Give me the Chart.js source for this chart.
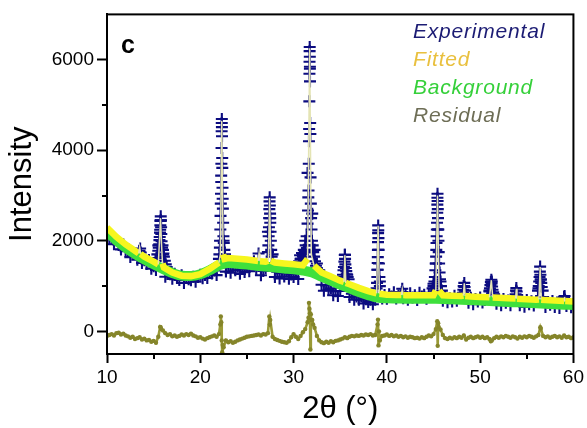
<!DOCTYPE html>
<html><head><meta charset="utf-8">
<script src="https://cdn.jsdelivr.net/npm/chart.js@4.4.0/dist/chart.umd.min.js"></script>
<style>html,body{margin:0;padding:0;background:#fff}#wrap{width:587px;height:428px}</style>
</head><body><div id="wrap"><canvas id="c" width="587" height="428"></canvas></div>
<script>
// ---- data ----
const xTicks = [10, 20, 30, 40, 50, 60];
const xMinor = [15, 25, 35, 45, 55];
const yTicks = [0, 2000, 4000, 6000];
const yMinor = [1000, 3000, 5000];
const panelLabel = 'c';
const xTitle = '2θ (°)';
const yTitle = 'Intensity';

// experimental scan, 2θ = 10 … 60 in 0.25° steps
const scanStart = 10, scanStep = 0.25;
const expScan = [
  2210, 2060, 2070, 1925,  // 10
  2010, 1910, 1810, 1920,  // 11
  1770, 1775, 1640, 1735,  // 12
  1730, 1580, 1760, 1510,  // 13
  1570, 1490, 1575, 1385,  // 14
  1440, 1355, 1900, 2450,  // 15
  1700, 1205, 1300, 1260,  // 16
  1160, 1275, 1180, 1135,  // 17
  1240, 1068, 1185, 1152,  // 18
  1130, 1208, 1098, 1198,  // 19
  1250, 1172, 1245, 1178,  // 20
  1320, 1278, 1345, 1242,  // 21
  1600, 3300, 2000, 1320,  // 22
  1410, 1296, 1422, 1348,  // 23
  1425, 1270, 1375, 1310,  // 24
  1415, 1329, 1500, 1550,  // 25
  1370, 1720, 1240, 1335,  // 26
  1400, 2200, 2500, 1700,  // 27
  1200, 1315, 1170, 1285,  // 28
  1210, 1315, 1160, 1255,  // 29
  1200, 1284, 1158, 1600,  // 30
  1700, 2000, 3500, 5800,  // 31
  2600, 1800, 1500, 1350,  // 32
  1030,  898, 1015,  912,  // 33
   950,  798,  885,  782,  // 34
   890, 1200, 1690, 1250,  // 35
   760,  830,  700,  770,  // 36
   700,  772,  615,  708,  // 37
   650,  696,  600,  700,  // 38
  1360, 1100,  728,  804,  // 39
   720,  819,  768,  866,  // 40
   725,  794,  800,  731,  // 41
   820,  700,  840,  750,  // 42
   800,  690,  850,  770,  // 43
   810,  720,  829,  850,  // 44
  1050, 1500, 2250, 1100,  // 45
   675,  773,  641,  730,  // 46
   658,  786,  674,  740,  // 47
   770, 1000,  780,  632,  // 48
   740,  598,  715,  662,  // 49
   750,  638,  690,  730,  // 50
   900, 1100,  820,  612,  // 51
   700,  578,  715,  632,  // 52
   680,  578,  695,  750,  // 53
   750,  578,  655,  542,  // 54
   690,  598,  665,  572,  // 55
   670,  950, 1150,  760,  // 56
   540,  638,  585,  672,  // 57
   540,  638,  515,  642,  // 58
   760,  558,  645,  532,  // 59
   600                     // 60
];

// extra experimental points on the Bragg peaks [2θ, intensity]
const expPeaks = [
  [13.45,1780],[13.55,1830],[13.62,1740],
  [15.2,1560],[15.3,1620],[15.4,1700],[15.5,1780],[15.55,1850],[15.6,1920],[15.62,2015],[15.65,2085],
  [15.68,2180],[15.7,2245],[15.72,2340],[15.74,2440],[15.76,2540],[15.78,2450],[15.8,2300],[15.82,2150],
  [15.85,1990],[15.9,1850],[15.95,1900],[16.0,1800],[16.05,1720],[16.1,1650],[16.2,1560],[16.3,1480],[16.4,1420],
  [22.05,1700],[22.1,1850],[22.12,2000],[22.15,2250],[22.17,2550],[22.2,2820],[22.22,3040],[22.24,3440],
  [22.26,3700],[22.28,4050],[22.29,4420],[22.3,4600],[22.31,4690],[22.32,4510],[22.33,4310],[22.35,3830],
  [22.36,3610],[22.38,3170],[22.4,2930],[22.42,2710],[22.45,2400],[22.48,2100],[22.52,1950],[22.58,1800],[22.65,1700],
  [27.25,1750],[27.3,1900],[27.33,2100],[27.36,2300],[27.38,2500],[27.4,2700],[27.42,2870],[27.44,2960],
  [27.46,2780],[27.48,2600],[27.5,2400],[27.53,2200],[27.56,2000],[27.6,1800],[27.65,1650],
  [30.6,1550],[30.7,1680],[30.8,1600],[30.9,1730],[31.0,1650],[31.1,1800],[31.2,1750],[31.3,1900],[31.4,2100],
  [31.5,2380],[31.55,2670],[31.58,2960],[31.6,3110],[31.63,3700],[31.65,4200],[31.67,4470],[31.69,5080],
  [31.7,5690],[31.71,5955],[31.72,6190],[31.73,6280],[31.74,6065],[31.75,5845],[31.76,5520],[31.78,4600],
  [31.8,4360],[31.82,3400],[31.85,2820],[31.88,2500],[31.92,2250],[31.97,2000],[32.05,1900],[32.1,1750],
  [32.2,1650],[32.3,1550],[32.4,1450],[32.5,1400],[32.6,1350],
  [35.3,1250],[35.35,1350],[35.4,1420],[35.45,1540],[35.5,1690],[35.52,1600],[35.55,1480],[35.6,1400],
  [35.65,1330],[35.7,1260],[35.8,1200],[35.9,1150],
  [38.9,950],[38.95,1070],[38.98,1200],[39.0,1360],[39.02,1510],[39.03,1640],[39.04,1800],[39.05,1970],
  [39.06,2170],[39.07,2340],[39.08,2230],[39.1,2060],[39.12,1800],[39.15,1500],[39.2,1200],[39.25,1000],
  [41.6,870],[41.65,940],[41.7,860],
  [44.9,950],[45.0,1000],[45.1,1100],[45.15,1200],[45.2,1350],[45.25,1500],[45.28,1650],[45.3,1800],
  [45.32,1950],[45.34,2100],[45.36,2250],[45.38,2400],[45.4,2620],[45.41,2800],[45.42,2950],[45.43,3040],
  [45.44,2880],[45.46,2700],[45.48,2500],[45.5,2250],[45.53,2000],[45.56,1750],[45.6,1500],[45.65,1300],
  [45.7,1150],[45.8,1000],[45.9,900],
  [48.15,850],[48.2,920],[48.25,1000],[48.3,1070],[48.33,980],[48.38,900],[48.45,820],
  [51.0,880],[51.05,950],[51.1,1020],[51.15,1090],[51.2,1140],[51.23,1060],[51.28,990],[51.33,920],[51.4,860],
  [53.8,820],[53.85,900],[53.88,955],[53.92,880],[53.97,800],
  [56.2,900],[56.28,1000],[56.33,1100],[56.37,1200],[56.4,1320],[56.43,1430],[56.46,1250],[56.5,1140],
  [56.55,1070],[56.6,980],[56.7,900],
  [59.0,720],[59.05,780],[59.1,700]
];

// fitted profile [2θ, intensity]
const fitted = [
  [10,2290],[11,2090],[12,1920],[13,1780],[13.4,1720],[13.5,1860],[13.6,1710],[14,1650],[15,1540],[15.5,1480],
  [15.74,2500],[15.85,1900],[15.95,1500],[16.1,1410],[17,1300],[18,1230],[19,1220],[20,1265],[21,1380],[22,1520],
  [22.15,1700],[22.3,4650],[22.45,1700],[22.6,1600],[23,1620],[24,1605],[25,1585],[26,1560],[26.2,1555],[26.3,1720],
  [26.4,1550],[27,1540],[27.3,1560],[27.43,2950],[27.56,1560],[28,1520],[29,1500],[30,1480],[31,1460],[31.5,1600],
  [31.73,6250],[31.9,1700],[32.2,1450],[33,1300],[34,1210],[35,1120],[35.4,1090],[35.5,1680],[35.6,1070],[36,1040],
  [37,960],[38,890],[38.9,840],[39.06,2330],[39.2,830],[40,810],[41,805],[41.55,803],[41.65,930],[41.75,801],
  [42,800],[43,800],[44,800],[45,800],[45.25,900],[45.43,3000],[45.6,900],[46,795],[47,788],[48,780],
  [48.2,790],[48.3,1060],[48.4,780],[49,770],[50,760],[51,752],[51.2,1130],[51.35,748],[52,740],[53,730],
  [53.8,725],[53.88,940],[53.95,722],[55,710],[56,700],[56.3,705],[56.43,1420],[56.55,700],[57,690],[58,680],
  [59,670],[59.05,760],[59.12,668],[60,660]
];

// background [2θ, intensity]
const background = [
  [10,2200],[11,2010],[12,1850],[13,1710],[14,1590],[15,1480],[16,1380],[17,1290],[18,1230],[19,1220],
  [20,1260],[21,1350],[22,1460],[23,1510],[24,1495],[25,1475],[26,1450],[27,1430],[28,1410],[29,1390],
  [30,1370],[31,1345],[32,1300],[33,1210],[34,1120],[35,1030],[36,950],[37,870],[38,800],[39,745],
  [40,730],[41,725],[42,720],[43,720],[44,720],[45,718],[46,715],[47,708],[48,700],[49,690],
  [50,680],[51,670],[52,660],[53,650],[54,640],[55,630],[56,620],[57,610],[58,600],[59,590],[60,580]
];

// residual, same 0.25° scan
const resScan = [
  -100, -80, -60, -90,   // 10
  -40, -30, -70, -50,    // 11
  -90, -110, -140, -120, // 12
  -170, -150, -130, -180,// 13
  -160, -200, -190, -230,// 14
  -210, -250, -120, 90,  // 15
  20, -40, -80, -60,     // 16
  -110, -90, -120, -100, // 17
  -70, -90, -60, -80,    // 18
  -50, -90, -110, -140,  // 19
  -130, -160, -180, -150,// 20
  -130, -110, -90, -120, // 21
  -60, 200, -350, -200,  // 22
  -240, -220, -250, -230,// 23
  -200, -180, -160, -140,// 24
  -120, -110, -100, -90, // 25
  -80, -70, -90, -60,    // 26
  -70, -40, 250, -120,   // 27
  -170, -190, -210, -230,// 28
  -240, -250, -220, -130,// 29
  -60, -120, -170, -100, // 30
  -20, 50, 200, 400,     // 31
  250, 80, -100, -200,   // 32
  -240, -260, -230, -250,// 33
  -220, -240, -210, -200,// 34
  -180, -160, -130, -150,// 35
  -120, -100, -110, -90, // 36
  -100, -80, -90, -70,   // 37
  -80, -60, -90, -80,    // 38
  150, -200, -100, -90,  // 39
  -70, -100, -80, -110,  // 40
  -90, -120, -100, -130, // 41
  -110, -140, -120, -130,// 42
  -150, -140, -160, -130,// 43
  -150, -120, -90, -110, // 44
  -60, 50, 180, 40,      // 45
  -80, -150, -170, -140, // 46
  -160, -130, -150, -120,// 47
  -140, -90, -180, -140, // 48
  -120, -150, -130, -110,// 49
  -140, -120, -150, -130,// 50
  -170, -200, -150, -120,// 51
  -140, -110, -130, -100,// 52
  -120, -140, -110, -130,// 53
  -160, -120, -140, -110,// 54
  -130, -100, -120, -140,// 55
  -110, -80, 60, -100,   // 56
  -130, -110, -140, -120,// 57
  -100, -130, -110, -140,// 58
  -90, -130, -120, -150, // 59
  -130                   // 60
];
const resSpikes = [
  [15.7,100],[15.8,50],[22.15,150],[22.2,330],[22.3,-200],[22.35,-460],[22.4,-300],[27.4,330],[27.45,150],
  [31.6,300],[31.65,630],[31.7,500],[31.8,-400],[31.85,380],[31.9,250],[32.1,150],[39.05,260],[39.1,-310],
  [39.15,0],[45.4,225],[45.45,-320],[45.55,100],[51.15,-220],[56.45,90]
];

// ---- build chart ----
const scanPts = arr => arr.map((v, i) => ({x: scanStart + i * scanStep, y: v}));
const pairPts = arr => arr.map(p => ({x: p[0], y: p[1]}));
const expData = scanPts(expScan).concat(pairPts(expPeaks));
const resData = scanPts(resScan).concat(pairPts(resSpikes)).sort((a, b) => a.x - b.x);

const FONT = "'Liberation Sans', Arial, Helvetica, sans-serif";
Chart.defaults.font.family = FONT;
Chart.defaults.color = '#000';

const steep = c => {
  const dx = Math.abs(c.p1.parsed.x - c.p0.parsed.x) || 1e-6;
  return Math.abs(c.p1.parsed.y - c.p0.parsed.y) / dx > 800;
};

const decor = {
  id: 'decor',
  afterDatasetsDraw(chart) {
    const {ctx, chartArea: a, scales: {x, y}} = chart;
    ctx.save();
    ctx.strokeStyle = '#000';
    ctx.lineWidth = 2;
    ctx.strokeRect(a.left, a.top, a.right - a.left, a.bottom - a.top);
    xMinor.forEach(v => {
      const px = Math.round(x.getPixelForValue(v));
      ctx.beginPath(); ctx.moveTo(px, a.bottom); ctx.lineTo(px, a.bottom + 5); ctx.stroke();
    });
    yMinor.forEach(v => {
      const py = Math.round(y.getPixelForValue(v));
      ctx.beginPath(); ctx.moveTo(a.left, py); ctx.lineTo(a.left - 5, py); ctx.stroke();
    });
    // panel letter
    ctx.fillStyle = '#000';
    ctx.font = 'bold 25px ' + FONT;
    ctx.textBaseline = 'alphabetic';
    ctx.fillText(panelLabel, a.left + 14, a.top + 39);
    // legend (text only)
    ctx.font = 'italic 21px ' + FONT;
    try { ctx.letterSpacing = '0.8px'; } catch (e) {}
    chart.data.datasets.forEach((ds, i) => {
      ctx.fillStyle = ds.legendColor;
      ctx.fillText(ds.label, a.left + 306, a.top + 24 + i * 28);
    });
    ctx.restore();
  }
};

new Chart(document.getElementById('c'), {
  type: 'scatter',
  data: {
    datasets: [
      {
        label: 'Experimental', legendColor: '#1c1c74', order: 4,
        data: expData, showLine: false,
        pointStyle: 'cross', pointRadius: 6, pointBorderWidth: 2.1,
        pointBorderColor: '#0c0c80', pointBackgroundColor: '#0c0c80'
      },
      {
        label: 'Fitted', legendColor: '#e9c03e', order: 2,
        data: pairPts(fitted), showLine: true, pointRadius: 0,
        borderColor: '#f6f61e', borderWidth: 6.5, tension: 0,
        segment: {
          borderWidth: c => steep(c) ? 1.5 : 6.5,
          borderColor: c => steep(c) ? '#e4e4b4' : '#f6f61e'
        }
      },
      {
        label: 'Background', legendColor: '#35d03a', order: 3,
        data: pairPts(background), showLine: true, pointRadius: 0,
        borderColor: '#3fe03c', borderWidth: 10, cubicInterpolationMode: 'monotone'
      },
      {
        label: 'Residual', legendColor: '#6e6e56', order: 1,
        data: resData, showLine: true, borderColor: '#9a9a36', borderWidth: 2.6,
        pointRadius: 2.2, pointBorderWidth: 0,
        pointBackgroundColor: '#85852a', pointBorderColor: '#85852a'
      }
    ]
  },
  options: {
    responsive: false, animation: false,
    layout: {padding: {top: 14, right: 13, left: 0, bottom: 0}},
    plugins: {legend: {display: false}, tooltip: {enabled: false}},
    scales: {
      x: {
        type: 'linear', min: 10, max: 60,
        afterBuildTicks: s => { s.ticks = xTicks.map(v => ({value: v})); },
        afterFit: s => { s.height = 74; },
        ticks: {font: {size: 19}, color: '#000', padding: 3, maxRotation: 0, autoSkip: false, callback: v => String(v)},
        grid: {drawOnChartArea: false, tickLength: 9, tickWidth: 2, color: '#000'},
        border: {width: 2, color: '#000'},
        title: {display: true, text: xTitle, font: {size: 31}, color: '#000', padding: {top: 0, bottom: 0}}
      },
      y: {
        type: 'linear', min: -500, max: 7000,
        afterBuildTicks: s => { s.ticks = yTicks.map(v => ({value: v})); },
        afterFit: s => { s.width = 107; },
        ticks: {font: {size: 19}, color: '#000', padding: 3, autoSkip: false, callback: v => String(v)},
        grid: {drawOnChartArea: false, tickLength: 10, tickWidth: 2, color: '#000'},
        border: {width: 2, color: '#000'},
        title: {display: true, text: yTitle, font: {size: 31}, color: '#000', padding: {top: 4, bottom: 0}}
      }
    }
  },
  plugins: [decor]
});
</script></body></html>
